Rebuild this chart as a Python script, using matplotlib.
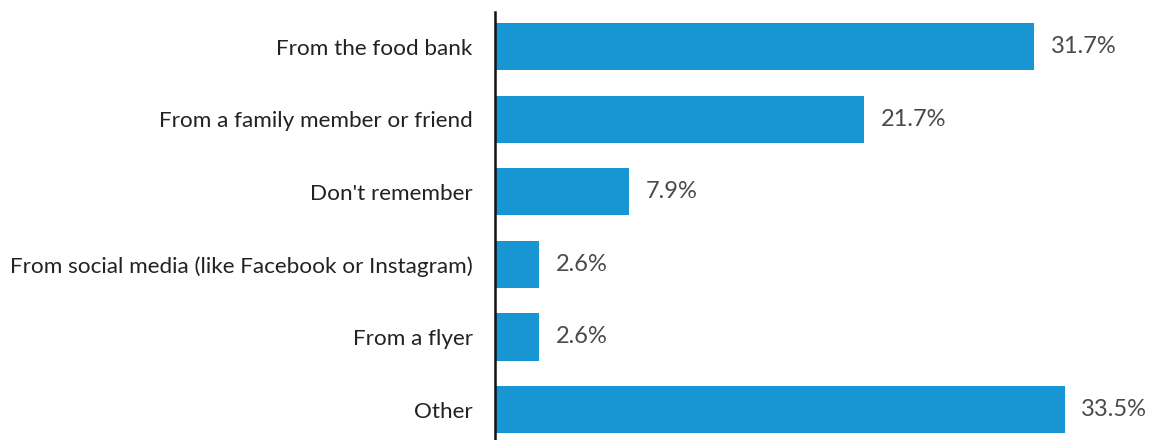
import matplotlib.pyplot as plt

# Survey answers: how respondents heard about the service
categories = [
    "From the food bank",
    "From a family member or friend",
    "Don't remember",
    "From social media (like Facebook or Instagram)",
    "From a flyer",
    "Other",
]
shares = [31.7, 21.7, 7.9, 2.6, 2.6, 33.5]

plt.rcParams['font.family'] = ['Lato', 'DejaVu Sans']

W, H = 1150, 440
fig = plt.figure(figsize=(W / 100, H / 100), dpi=100)
# axes placed in pixel terms: spine at x=495, top at y=12, bottom at figure edge
ax = fig.add_axes([495 / W, 0, (W - 495) / W, (H - 12) / H])

y = list(range(len(categories)))
ax.barh(y, shares, height=0.65, color='#1896d3')

for yi, v in zip(y, shares):
    ax.annotate(f"{v}%", (v, yi), xytext=(12, 0), textcoords='offset points',
                va='center', ha='left', fontsize=17, color='#4a4a4a')

ax.set_yticks(y)
ax.set_yticklabels(categories, fontsize=16.2, color='#222222')
ax.tick_params(axis='y', length=0, pad=16)
ax.set_xticks([])
ax.set_xlim(0, (W - 495) / 17.0)
ax.set_ylim(5.42, -0.48)

for side in ['top', 'right', 'bottom']:
    ax.spines[side].set_visible(False)
ax.spines['left'].set_linewidth(1.8)
ax.spines['left'].set_color('#111111')

plt.savefig("out.png", dpi=100)
